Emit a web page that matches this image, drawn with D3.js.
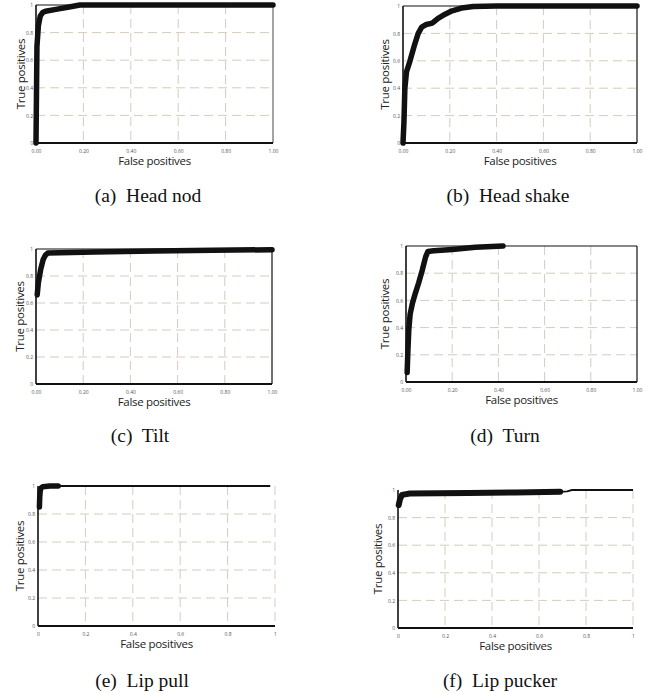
<!DOCTYPE html>
<html lang="en">
<head>
<meta charset="utf-8">
<title>ROC curves</title>
<script src="https://d3js.org/d3.v7.min.js"></script>
<style>
  body { margin: 0; background: #fff; }
  .tick text { font-family: "Open Sans", sans-serif; font-size: 5px; fill: #555; }
  .ttl { font-family: "Open Sans", sans-serif; font-size: 11.5px; fill: #222; letter-spacing: -0.3px; }
  .cap { font-family: "Liberation Serif", "Times New Roman", serif; font-size: 19.5px; fill: #111; white-space: pre; }
</style>
</head>
<body>
<script>
// captions
const captions = ["(a)  Head nod", "(b)  Head shake", "(c)  Tilt", "(d)  Turn", "(e)  Lip pull", "(f)  Lip pucker"];

// tick labels
const xTicksDec = ["0.00", "0.20", "0.40", "0.60", "0.80", "1.00"];
const xTicksShort = ["0", "0.2", "0.4", "0.6", "0.8", "1"];
const yTicks = ["0", "0.2", "0.4", "0.6", "0.8", "1"];
const tickVals = [0, 0.2, 0.4, 0.6, 0.8, 1];

// ROC points (false positive rate, true positive rate)
const headNodFpr = [0, 0.002, 0.004, 0.01, 0.018, 0.028, 0.04, 0.09, 0.14, 0.185, 1.0];
const headNodTpr = [0, 0.35, 0.7, 0.85, 0.92, 0.945, 0.955, 0.97, 0.985, 1.0, 1.0];

const headShakeFpr = [0, 0.004, 0.008, 0.015, 0.03, 0.05, 0.065, 0.08, 0.1, 0.125, 0.15, 0.18, 0.21, 0.25, 0.3, 0.4, 1.0];
const headShakeTpr = [0, 0.15, 0.4, 0.52, 0.6, 0.72, 0.8, 0.845, 0.865, 0.875, 0.91, 0.94, 0.965, 0.985, 0.997, 1.0, 1.0];

const tiltFpr = [0.005, 0.01, 0.02, 0.03, 0.04, 0.05, 0.1, 0.25, 0.5, 0.75, 1.0];
const tiltTpr = [0.66, 0.75, 0.85, 0.92, 0.955, 0.97, 0.972, 0.978, 0.985, 0.99, 0.995];

const turnFpr = [0.005, 0.008, 0.012, 0.018, 0.028, 0.04, 0.055, 0.07, 0.085, 0.095, 0.12, 0.2, 0.3, 0.42];
const turnTpr = [0.07, 0.22, 0.38, 0.5, 0.58, 0.65, 0.73, 0.82, 0.92, 0.96, 0.965, 0.975, 0.99, 1.0];

const lipPullFpr = [0.006, 0.007, 0.009, 0.012, 0.02, 0.05, 0.085];
const lipPullTpr = [0.85, 0.91, 0.96, 0.985, 0.995, 1.0, 1.0];
const lipPullTailFpr = [0.085, 0.98];
const lipPullTailTpr = [1.0, 1.0];

const lipPuckerFpr = [0.003, 0.008, 0.017, 0.05, 0.3, 0.5, 0.69];
const lipPuckerTpr = [0.89, 0.93, 0.965, 0.975, 0.978, 0.982, 0.987];
const lipPuckerTailFpr = [0.69, 0.72, 0.74, 1.0];
const lipPuckerTailTpr = [0.987, 0.99, 1.0, 1.0];

const zip = (xs, ys) => xs.map((x, i) => [x, ys[i]]);

// panel layout
const panels = [
  {l: 36, r: 273, t: 5, b: 143, ty: 21, cx: 148, cy: 202, xt: xTicksDec, frame: true,
   thick: zip(headNodFpr, headNodTpr), thin: null},
  {l: 403, r: 637, t: 6, b: 143, ty: 385, cx: 508, cy: 202, xt: xTicksDec, frame: true,
   thick: zip(headShakeFpr, headShakeTpr), thin: null},
  {l: 36, r: 272, t: 249, b: 384, ty: 20, cx: 140, cy: 442, xt: xTicksDec, frame: true,
   thick: zip(tiltFpr, tiltTpr), thin: null},
  {l: 406, r: 637, t: 246, b: 382, ty: 385, cx: 505, cy: 442, xt: xTicksDec, frame: true,
   thick: zip(turnFpr, turnTpr), thin: null},
  {l: 38, r: 275, t: 486, b: 626, ty: 20, cx: 142, cy: 687, xt: xTicksShort, frame: false,
   thick: zip(lipPullFpr, lipPullTpr), thin: zip(lipPullTailFpr, lipPullTailTpr)},
  {l: 398, r: 633, t: 490, b: 628, ty: 378, cx: 500, cy: 687, xt: xTicksShort, frame: false,
   thick: zip(lipPuckerFpr, lipPuckerTpr), thin: zip(lipPuckerTailFpr, lipPuckerTailTpr)}
];

const svg = d3.select("body").append("svg")
  .attr("width", 656).attr("height", 693);

panels.forEach((p, i) => {
  const x = d3.scaleLinear().domain([0, 1]).range([p.l, p.r]);
  const y = d3.scaleLinear().domain([0, 1]).range([p.b, p.t]);
  const g = svg.append("g");

  // dashed grid
  const gridX = p.frame ? tickVals.slice(1, 5) : tickVals.slice(1);
  g.selectAll(".gv").data(gridX).join("line")
    .attr("x1", d => x(d)).attr("x2", d => x(d))
    .attr("y1", y(1)).attr("y2", y(0))
    .attr("stroke", "#d6cbbd").attr("stroke-dasharray", "9,5");
  g.selectAll(".gh").data(tickVals.slice(1, 5)).join("line")
    .attr("x1", x(0)).attr("x2", x(1))
    .attr("y1", d => y(d)).attr("y2", d => y(d))
    .attr("stroke", "#d6cbbd").attr("stroke-dasharray", "9,5");

  // axes
  const xa = g.append("g").attr("transform", `translate(0,${p.b + 2})`)
    .call(d3.axisBottom(x).tickValues(tickVals).tickSize(0).tickPadding(4)
      .tickFormat((d, j) => p.xt[j]));
  const ya = g.append("g").attr("transform", `translate(${p.l - 2},0)`)
    .call(d3.axisLeft(y).tickValues(tickVals).tickSize(0).tickPadding(1)
      .tickFormat((d, j) => yTicks[j]));
  xa.select(".domain").remove();
  ya.select(".domain").remove();

  if (p.frame) {
    g.append("line").attr("x1", x(0)).attr("x2", x(1)).attr("y1", y(1)).attr("y2", y(1))
      .attr("stroke", "#111").attr("stroke-width", 1.2);
    g.append("line").attr("x1", x(1)).attr("x2", x(1)).attr("y1", y(1)).attr("y2", y(0))
      .attr("stroke", i === 0 ? "#666" : "#111").attr("stroke-width", 1.2);
  }
  g.append("line").attr("x1", x(0)).attr("x2", x(0)).attr("y1", y(1)).attr("y2", y(0))
    .attr("stroke", "#111").attr("stroke-width", 1.6);
  g.append("line").attr("x1", x(0)).attr("x2", x(1)).attr("y1", y(0)).attr("y2", y(0))
    .attr("stroke", "#111").attr("stroke-width", 2);

  const line = d3.line().x(d => x(d[0])).y(d => y(d[1]));
  if (p.thin) {
    g.append("path").attr("d", line(p.thin)).attr("fill", "none")
      .attr("stroke", "#111").attr("stroke-width", 2);
  }
  g.append("path").attr("d", line(p.thick)).attr("fill", "none")
    .attr("stroke", "#111").attr("stroke-width", i === 5 ? 6 : 5.5)
    .attr("stroke-linecap", "round").attr("stroke-linejoin", "round");

  // titles
  g.append("text").attr("class", "ttl").attr("x", (p.l + p.r) / 2).attr("y", p.b + 22)
    .attr("text-anchor", "middle").text("False positives");
  g.append("text").attr("class", "ttl")
    .attr("transform", `translate(${p.ty},${(p.t + p.b) / 2}) rotate(-90)`)
    .attr("text-anchor", "middle").attr("dy", "0.35em").text("True positives");

  svg.append("text").attr("class", "cap").attr("x", p.cx).attr("y", p.cy)
    .attr("text-anchor", "middle").text(captions[i]);
});
</script>
</body>
</html>
